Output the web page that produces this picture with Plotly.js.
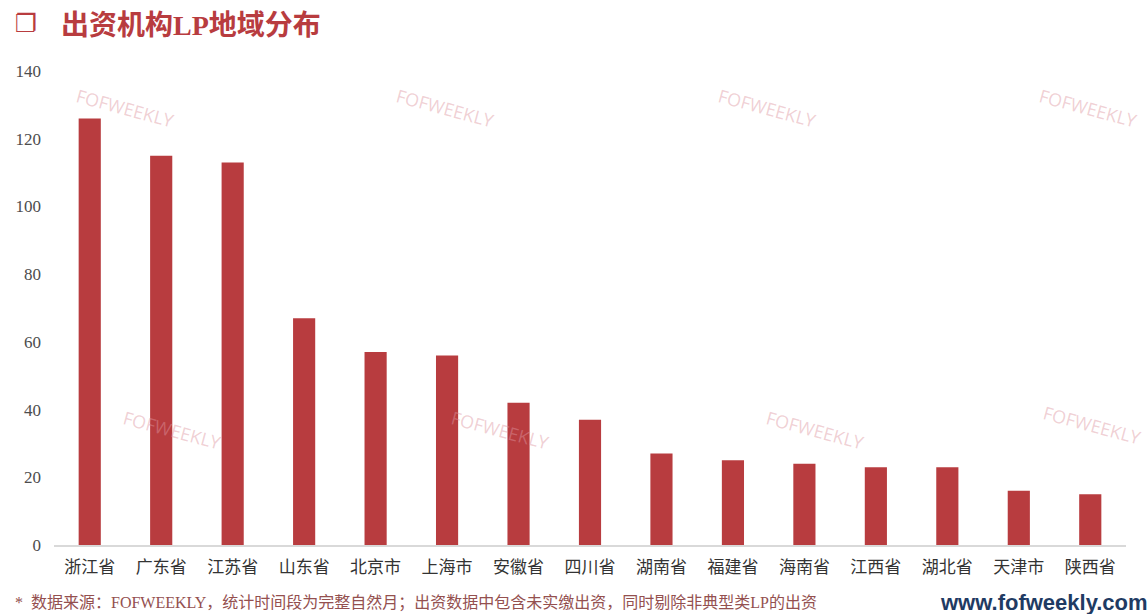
<!DOCTYPE html>
<html><head><meta charset="utf-8">
<script src="https://cdn.plot.ly/plotly-3.0.1.min.js"></script>
<style>html,body{margin:0;padding:0;background:#fff;}#chart{width:1148px;height:614px;}</style>
</head><body><div id="chart"></div>
<script>
const categories = ["浙江省","广东省","江苏省","山东省","北京市","上海市","安徽省","四川省","湖南省","福建省","海南省","江西省","湖北省","天津市","陕西省"];
const counts = [126,115,113,67,57,56,42,37,27,25,24,23,23,16,15];
const yTicks = [0,20,40,60,80,100,120,140];
const titleText = "出资机构LP地域分布";
const footnote = "*  数据来源：FOFWEEKLY，统计时间段为完整自然月；出资数据中包含未实缴出资，同时剔除非典型类LP的出资";
const siteText = "www.fofweekly.com";
const watermark = "FOFWEEKLY";
const wmSpots = [[125,108],[445,108],[767,108],[1088,108],[172,430],[500,430],[815,430],[1092,425]];

const trace = {type:"bar", x:categories, y:counts, marker:{color:"#b83c3f"}, hoverinfo:"x+y"};

const px = v => (v-54)/(1126-54);
const py = v => (545-v)/(545-71);
const annotations = [];
wmSpots.forEach(p => annotations.push({
  xref:"paper", yref:"paper", x:px(p[0]), y:py(p[1]), xanchor:"center", yanchor:"middle",
  text:watermark, showarrow:false, textangle:15,
  font:{family:"Open Sans, DejaVu Sans, sans-serif", size:18, color:"rgba(222,150,160,0.45)"}
}));
annotations.push({xref:"paper", yref:"paper", x:px(13), y:py(24), xanchor:"left", yanchor:"middle",
  text:"<b>❐</b>", showarrow:false, font:{family:"DejaVu Sans", size:25, color:"#b83c3f"}});
annotations.push({xref:"paper", yref:"paper", x:px(59), y:py(25), xanchor:"left", yanchor:"middle",
  text:"<b>"+titleText+"</b>", showarrow:false, font:{family:"Liberation Serif, 'Noto Sans CJK SC', serif", size:28, color:"#b83c3f"}});
annotations.push({xref:"paper", yref:"paper", x:px(13), y:py(603), xanchor:"left", yanchor:"middle",
  text:footnote, showarrow:false, font:{family:"Liberation Serif, 'Noto Sans CJK SC', serif", size:16, color:"#94504f"}});
annotations.push({xref:"paper", yref:"paper", x:px(1150), y:py(602), xanchor:"right", yanchor:"middle",
  text:"<b>"+siteText+"</b>", showarrow:false, font:{family:"Liberation Sans, Arial, sans-serif", size:22, color:"#1f3b63"}});

const layout = {
  width:1148, height:614,
  margin:{l:54, r:22, t:71, b:69},
  paper_bgcolor:"#fff", plot_bgcolor:"rgba(0,0,0,0)",
  bargap:0.69, showlegend:false,
  xaxis:{type:"category", showgrid:false, zeroline:false, showline:true, linecolor:"#d9d9d9", linewidth:2,
    ticks:"", ticklabelstandoff:6, tickfont:{family:"'Noto Sans CJK SC', sans-serif", size:17, color:"#333333"}},
  yaxis:{range:[0,140], tickvals:yTicks, showgrid:false, zeroline:false, showline:false, ticks:"",
    ticklabelstandoff:12, tickfont:{family:"Liberation Serif, 'Times New Roman', serif", size:17, color:"#4d4d4d"}},
  annotations:annotations
};
Plotly.newPlot("chart",[trace],layout,{displayModeBar:false, staticPlot:true});
</script></body></html>
